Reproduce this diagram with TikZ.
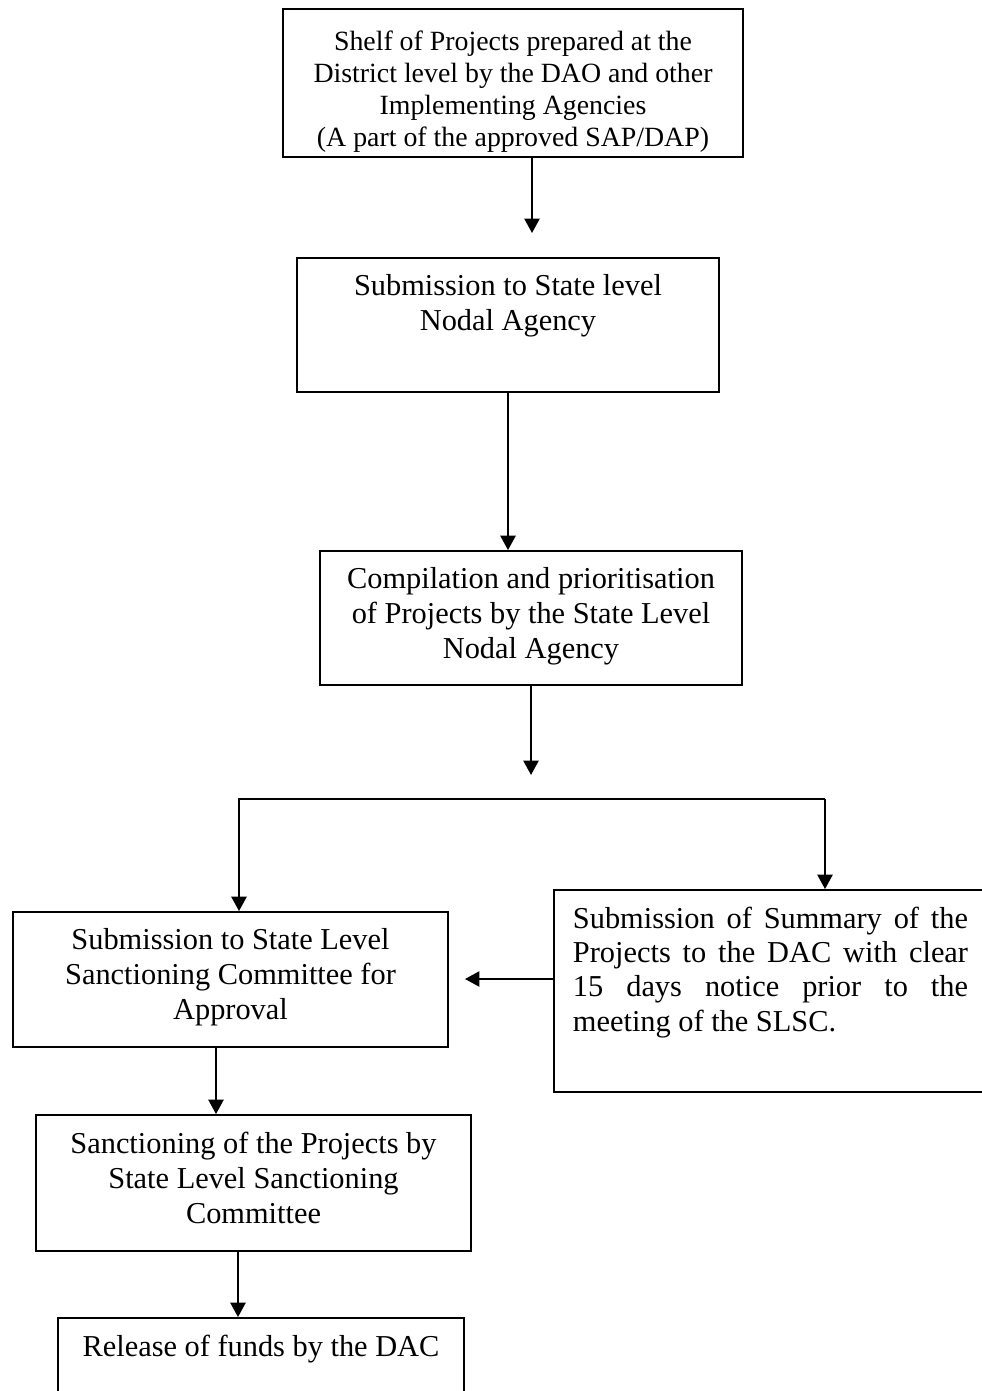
\documentclass[tikz,border=0pt]{standalone}
\usepackage{fontspec}
\setmainfont{Liberation Serif}
\usetikzlibrary{arrows.meta}
\newcommand{\stagetext}[3]{\parbox[c][#2][t]{#1}{\centering\vspace*{0.42cm}#3}}
\tikzset{
  stage/.style={draw, line width=1.3pt, inner sep=0pt, font=\fontsize{21.6}{24.9}\selectfont},
  flow/.style={-{Triangle[length=0.36cm,width=0.38cm]}, line width=1.3pt},
}

\begin{document}
\begin{tikzpicture}[x=0.025cm,y=-0.025cm]
  \useasboundingbox (0,0) rectangle (981,1391);
  \node[stage, font=\fontsize{19.8}{22.8}\selectfont] (shelf) at (513,83)
    {\parbox[c][3.7cm][t]{11.5cm}{\centering\vspace*{0.55cm}Shelf of Projects prepared at the\\
      District level by the DAO and other\\ Implementing Agencies\\
      (A part of the approved SAP/DAP)}};
  \node[stage] (submit) at (508,325)
    {\stagetext{10.55cm}{3.35cm}{Submission to State level\\ Nodal Agency}};
  \node[stage] (compile) at (531,618)
    {\stagetext{10.55cm}{3.35cm}{Compilation and prioritisation\\
      of Projects by the State Level\\ Nodal Agency}};
  \node[stage] (request) at (230.5,979.5)
    {\stagetext{10.875cm}{3.375cm}{Submission to State Level\\
      Sanctioning Committee for\\ Approval}};
  \node[stage] (summary) at (768.5,991)
    {\parbox[c][5.05cm][t]{10.725cm}{\vspace*{0.42cm}\hspace*{0.475cm}%
      \parbox[t]{9.875cm}{\fontsize{21.6}{24.4}\selectfont
      \makebox[\linewidth][s]{Submission of Summary of the}\\
      \makebox[\linewidth][s]{Projects to the DAC with clear}\\
      \makebox[\linewidth][s]{15 days notice prior to the}\\
      meeting of the SLSC.}}};
  \node[stage] (sanctioned) at (253.5,1183)
    {\stagetext{10.875cm}{3.4cm}{Sanctioning of the Projects by\\
      State Level Sanctioning\\ Committee}};
  \node[stage] (release) at (261,1359)
    {\stagetext{10.15cm}{2.05cm}{Release of funds by the DAC}};

  \coordinate (a1) at (532,233);
  \coordinate (a3) at (531,775);
  \coordinate (bl) at (239,799);
  \coordinate (br) at (825,799);
  \coordinate (a4) at (465,979);
  \coordinate (d1) at (216,1080);
  \coordinate (d2) at (238,1285);

  \draw[flow] (shelf.south -| a1) -- (a1);
  \draw[flow] (submit.south) -- (submit.south |- compile.north);
  \draw[flow] (compile.south) -- (a3);
  \draw[flow] (br) -- (bl) -- (bl |- request.north);
  \draw[flow] (br) -- (br |- summary.north);
  \draw[flow] (a4 -| summary.west) -- (a4);
  \draw[flow] (request.south -| d1) -- (sanctioned.north -| d1);
  \draw[flow] (sanctioned.south -| d2) -- (release.north -| d2);
\end{tikzpicture}
\end{document}
